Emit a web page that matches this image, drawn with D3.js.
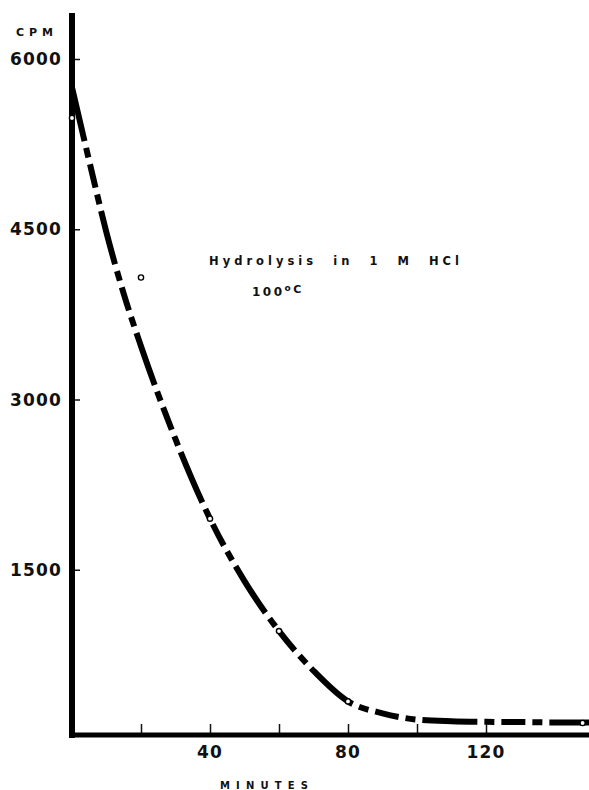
<!DOCTYPE html>
<html lang="en">
<head>
    <meta charset="UTF-8">
    <title>Hydrolysis in 1 M HCl</title>
    <script src="https://d3js.org/d3.v7.min.js"></script>
    <style>
        body {
            margin: 0;
            padding: 0;
            background-color: #fff;
        }

        #chart text {
            font-family: "DejaVu Sans", Arial, sans-serif;
            font-weight: bold;
            fill: #111;
        }
    </style>
</head>
<body>
    <svg id="chart" width="589" height="790"></svg>
    <script>
        // fitted curve (minutes, cpm)
        const curveMinutes = [0, 5, 10, 15, 20, 30, 40, 50, 60, 70, 80, 90, 100, 110, 120, 130, 140, 150];
        const curveCpm = [5750, 5100, 4470, 3930, 3470, 2650, 1950, 1400, 960, 610, 340, 235, 180, 165, 160, 158, 155, 155];

        // measured points
        const pointMinutes = [0, 20, 40, 60, 80, 148];
        const pointCpm = [5480, 4075, 1950, 960, 340, 150];

        const yTicks = [1500, 3000, 4500, 6000];
        const xTicks = [20, 40, 60, 80, 100, 120];
        const xLabels = [40, 80, 120];

        const svg = d3.select("#chart");

        const x = d3.scaleLinear().domain([0, 20]).range([72, 141]);
        const y = d3.scaleLinear().domain([0, 6000]).range([740, 59]);

        // axes drawn by hand so they look like the old ink plot
        const yAxis = d3.axisRight(y).tickValues(yTicks).tickSize(8).tickFormat("");
        svg.append("g")
            .attr("transform", `translate(${x(0)},0)`)
            .call(yAxis)
            .call(g => g.select(".domain").remove())
            .call(g => g.selectAll("line").attr("stroke", "#111").attr("stroke-width", 1.5));

        const xAxis = d3.axisTop(x).tickValues(xTicks).tickSize(11).tickFormat("");
        svg.append("g")
            .attr("transform", `translate(0,${735})`)
            .call(xAxis)
            .call(g => g.select(".domain").remove())
            .call(g => g.selectAll("line").attr("stroke", "#111").attr("stroke-width", 1.5));

        // main axis lines
        svg.append("line")
            .attr("x1", x(0)).attr("x2", x(0))
            .attr("y1", 13).attr("y2", 738)
            .attr("stroke", "#000").attr("stroke-width", 6);
        svg.append("line")
            .attr("x1", x(0) - 3).attr("x2", 589)
            .attr("y1", 735).attr("y2", 735)
            .attr("stroke", "#000").attr("stroke-width", 5);

        // tick labels
        svg.selectAll(".ylab")
            .data(yTicks)
            .enter().append("text")
            .attr("class", "ylab")
            .attr("x", 62)
            .attr("y", d => y(d) + 6)
            .attr("text-anchor", "end")
            .attr("font-size", 17)
            .attr("letter-spacing", 1.2)
            .text(d => d);

        svg.selectAll(".xlab")
            .data(xLabels)
            .enter().append("text")
            .attr("class", "xlab")
            .attr("x", d => x(d))
            .attr("y", 758)
            .attr("text-anchor", "middle")
            .attr("font-size", 17)
            .attr("letter-spacing", 1.2)
            .text(d => d);

        svg.append("text")
            .attr("x", 16).attr("y", 36)
            .attr("font-size", 11)
            .attr("textLength", 37).attr("lengthAdjust", "spacing")
            .text("CPM");

        svg.append("text")
            .attr("x", 220).attr("y", 789)
            .attr("font-size", 10)
            .attr("textLength", 88).attr("lengthAdjust", "spacing")
            .text("MINUTES");

        // annotation
        svg.append("text")
            .attr("x", 209).attr("y", 265)
            .attr("font-size", 11.5)
            .attr("textLength", 250).attr("lengthAdjust", "spacing")
            .attr("word-spacing", 8)
            .text("Hydrolysis in 1 M HCl");

        const deg = svg.append("text")
            .attr("x", 252).attr("y", 296)
            .attr("font-size", 12)
            .attr("letter-spacing", 2.5);
        deg.append("tspan").text("100");
        deg.append("tspan").attr("font-size", 9).attr("dy", -5).text("o");
        deg.append("tspan").attr("dy", 2).attr("font-size", 11).text("C");

        // the dash-dot curve
        const curveData = curveMinutes.map((m, i) => ({ m: m, v: curveCpm[i] }));
        const line = d3.line()
            .x(d => x(d.m))
            .y(d => y(d.v))
            .curve(d3.curveMonotoneX);

        svg.append("path")
            .datum(curveData)
            .attr("d", line)
            .attr("fill", "none")
            .attr("stroke", "#000")
            .attr("stroke-width", 6)
            .attr("stroke-dasharray", "55,7,10,7,24,7,10,7");

        // hollow points
        const pts = pointMinutes.map((m, i) => ({ m: m, v: pointCpm[i] }));
        svg.selectAll(".pt")
            .data(pts)
            .enter().append("circle")
            .attr("class", "pt")
            .attr("cx", d => x(d.m))
            .attr("cy", d => y(d.v))
            .attr("r", 2.6)
            .attr("fill", "#fff")
            .attr("stroke", "#000")
            .attr("stroke-width", 1.4);
    </script>
</body>
</html>
